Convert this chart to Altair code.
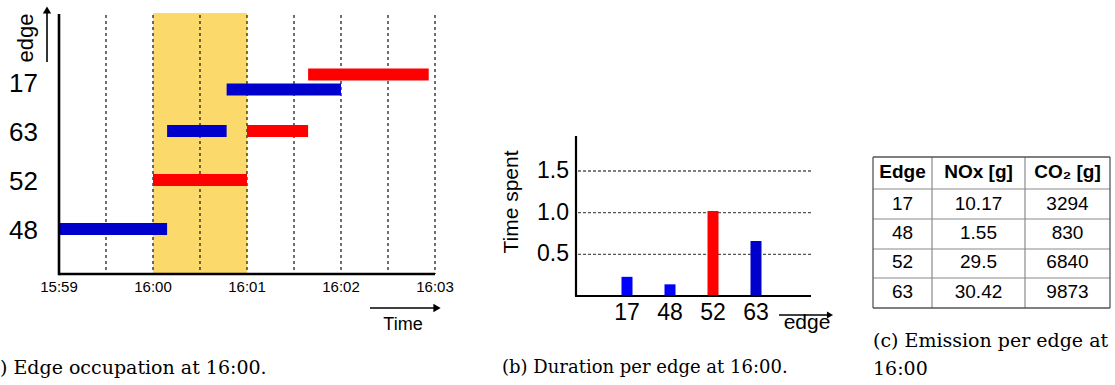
import altair as alt
import pandas as pd

SANS = "Liberation Sans"
SERIF = "DejaVu Serif"

# ---------------- (a) Edge occupation ----------------
occ_vehicle = ["blue", "blue", "blue", "red", "red", "red"]
occ_edge = ["48", "63", "17", "52", "63", "17"]
occ_start = ["15:59:00", "16:00:09", "16:00:47", "16:00:00", "16:01:00", "16:01:39"]
occ_end = ["16:00:09", "16:00:47", "16:02:00", "16:01:00", "16:01:39", "16:02:56"]
occ_slot = ["mid", "mid", "lower", "mid", "mid", "upper"]

edge_order = ["17", "63", "52", "48"]
grid_times = ["15:59:30", "16:00:00", "16:00:30", "16:01:00",
              "16:01:30", "16:02:00", "16:02:30", "16:03:00"]
tick_times = ["15:59:00", "16:00:00", "16:01:00", "16:02:00", "16:03:00"]
tick_labels = ["15:59", "16:00", "16:01", "16:02", "16:03"]
window_start = ["16:00:00"]
window_end = ["16:01:00"]
axis_start = ["15:59:00"]
axis_end = ["16:03:00"]

# ---------------- (b) Duration per edge ----------------
dur_edge = ["17", "48", "52", "63"]
dur_time = [0.23, 0.14, 1.02, 0.66]
dur_ticks = [0.5, 1.0, 1.5]
dur_tick_labels = ["0.5", "1.0", "1.5"]

# ---------------- (c) Emission table ----------------
tab_header = ["Edge", "NOx [g]", "CO\u2082 [g]"]
tab_edge = ["17", "48", "52", "63"]
tab_nox = ["10.17", "1.55", "29.5", "30.42"]
tab_co2 = ["3294", "830", "6840", "9873"]


def secs(s):
    h, m, sec = (int(p) for p in s.split(":"))
    return h * 3600 + m * 60 + sec


def text_layer(txt, x, y, size, font=SANS, align="center", baseline="alphabetic",
               angle=0, weight="normal"):
    kw = dict(font=font, fontSize=size, align=align, baseline=baseline,
              fontWeight=weight, color="black")
    if angle:
        kw["angle"] = angle
    return alt.Chart(pd.DataFrame({"s": [txt]})).mark_text(**kw).encode(
        x=alt.value(x), y=alt.value(y), text="s:N")


def hline(x1, x2, y, width=1.0, color="black", dash=None):
    kw = dict(color=color, strokeWidth=width, strokeCap="butt")
    if dash:
        kw["strokeDash"] = dash
    return alt.Chart(pd.DataFrame({"a": [0]})).mark_rule(**kw).encode(
        x=alt.value(x1), x2=alt.value(x2), y=alt.value(y))


def vline(x, y1, y2, width=1.0, color="black"):
    return alt.Chart(pd.DataFrame({"a": [0]})).mark_rule(
        color=color, strokeWidth=width, strokeCap="butt").encode(
        x=alt.value(x), y=alt.value(y1), y2=alt.value(y2))


def head(x, y, shape, size=70):
    return alt.Chart(pd.DataFrame({"a": [0]})).mark_point(
        shape=shape, filled=True, size=size, color="black", opacity=1, strokeWidth=0).encode(
        x=alt.value(x), y=alt.value(y))


layers = []

# ---------- panel (a) ----------
xA = alt.Scale(domain=[secs(axis_start[0]), secs(axis_end[0])], range=[59, 435],
               nice=False, zero=False)
yA = alt.Scale(type="point", domain=edge_order, range=[82, 229], padding=0)
yOffA = alt.Scale(type="point", domain=["upper", "mid", "lower"], range=[-7.5, 7.5], padding=0)

df_win = pd.DataFrame({"start": [secs(t) for t in window_start],
                       "end": [secs(t) for t in window_end]})
layers.append(alt.Chart(df_win).mark_rect(color="#fcd96b").encode(
    x=alt.X("start:Q", scale=xA, axis=None), x2="end:Q",
    y=alt.value(13), y2=alt.value(274)))

df_grid = pd.DataFrame({"t": [secs(t) for t in grid_times]})
layers.append(alt.Chart(df_grid).mark_rule(color="#222222", strokeDash=[3, 3], strokeWidth=1.3).encode(
    x=alt.X("t:Q", scale=xA, axis=None), y=alt.value(15), y2=alt.value(274)))

df_occ = pd.DataFrame({"vehicle": occ_vehicle, "edge": occ_edge,
                       "start": [secs(t) for t in occ_start],
                       "end": [secs(t) for t in occ_end], "slot": occ_slot})
layers.append(alt.Chart(df_occ).mark_rule(strokeWidth=12, strokeCap="butt").encode(
    x=alt.X("start:Q", scale=xA, axis=None), x2="end:Q",
    y=alt.Y("edge:N", scale=yA, axis=None),
    yOffset=alt.YOffset("slot:N", scale=yOffA),
    color=alt.Color("vehicle:N", scale=alt.Scale(domain=["blue", "red"],
                                                  range=["#0000cc", "#ff0000"]), legend=None)))

df_frame = pd.DataFrame({"t0": [secs(axis_start[0])], "t1": [secs(axis_end[0])]})
layers.append(alt.Chart(df_frame).mark_rule(color="black", strokeWidth=2.6).encode(
    x=alt.X("t0:Q", scale=xA, axis=None), y=alt.value(14), y2=alt.value(275.3)))
layers.append(alt.Chart(df_frame).mark_rule(color="black", strokeWidth=2.6, strokeCap="butt").encode(
    x=alt.X("t0:Q", scale=xA, axis=None), x2="t1:Q", y=alt.value(274)))

df_ticks = pd.DataFrame({"t": [secs(t) for t in tick_times], "label": tick_labels})
layers.append(alt.Chart(df_ticks).mark_text(font=SANS, fontSize=15, baseline="alphabetic",
                                            color="black").encode(
    x=alt.X("t:Q", scale=xA, axis=None), y=alt.value(292), text="label:N"))

df_edges = pd.DataFrame({"edge": edge_order})
layers.append(alt.Chart(df_edges).mark_text(font=SANS, fontSize=26, align="right",
                                            baseline="alphabetic", dy=10, color="black").encode(
    x=alt.value(38), y=alt.Y("edge:N", scale=yA, axis=None), text="edge:N"))

layers.append(text_layer("edge", 26, 38, 22, baseline="middle", angle=270))
layers.append(vline(47, 62, 12, width=1.6))
layers.append(head(47, 10, "triangle-up", 70))
layers.append(text_layer("Time", 403, 330, 18))
layers.append(hline(370, 436, 308, width=1.6))
layers.append(head(437, 308, "triangle-right", 70))
# the reference crops the "(a" of this caption at the page edge
layers.append(text_layer(") Edge occupation at 16:00.", 0, 374, 19, font=SERIF, align="left"))

# ---------- panel (b) ----------
xB = alt.Scale(type="point", domain=dur_edge, range=[627, 756], padding=0)
yB = alt.Scale(domain=[0, 1.5], range=[296, 171], nice=False, zero=False)

df_bt = pd.DataFrame({"v": dur_ticks, "label": dur_tick_labels})
layers.append(alt.Chart(df_bt).mark_rule(color="#555555", strokeDash=[3, 2], strokeWidth=1.3).encode(
    y=alt.Y("v:Q", scale=yB, axis=None), x=alt.value(578), x2=alt.value(813)))

df_dur = pd.DataFrame({"edge": dur_edge, "time": dur_time})
layers.append(alt.Chart(df_dur).mark_rule(strokeWidth=11, strokeCap="butt").encode(
    x=alt.X("edge:N", scale=xB, axis=None),
    y=alt.Y("time:Q", scale=yB, axis=None), y2=alt.datum(0),
    color=alt.Color("edge:N", scale=alt.Scale(domain=dur_edge,
                                               range=["#0000ff", "#0000ff", "#ff0000", "#0000cc"]),
                    legend=None)))

df_zero = pd.DataFrame({"v0": [0]})
layers.append(alt.Chart(df_zero).mark_rule(color="black", strokeWidth=2.2).encode(
    x=alt.value(576), y=alt.Y("v0:Q", scale=yB, axis=None), y2=alt.value(136)))
layers.append(alt.Chart(df_zero).mark_rule(color="black", strokeWidth=2.2, strokeCap="butt").encode(
    y=alt.Y("v0:Q", scale=yB, axis=None), x=alt.value(575), x2=alt.value(811)))

layers.append(alt.Chart(df_bt).mark_text(font=SANS, fontSize=23, align="right", baseline="middle",
                                         color="black").encode(
    x=alt.value(569), y=alt.Y("v:Q", scale=yB, axis=None), text="label:N"))
layers.append(alt.Chart(df_dur).mark_text(font=SANS, fontSize=23, baseline="alphabetic",
                                          color="black").encode(
    x=alt.X("edge:N", scale=xB, axis=None), y=alt.value(320), text="edge:N"))

layers.append(text_layer("Time spent", 512, 202, 21, baseline="middle", angle=270))
layers.append(text_layer("edge", 807, 329, 21))
layers.append(hline(779, 829, 315, width=1.5))
layers.append(head(830, 315, "triangle-right", 50))
layers.append(text_layer("(b) Duration per edge at 16:00.", 502, 373, 18, font=SERIF, align="left"))

# ---------- panel (c) ----------
yC = alt.Scale(type="point", domain=tab_edge, range=[210, 297.5], padding=0)
col_centers = [902.5, 978.5, 1067.5]
df_tab = pd.DataFrame({"edge": tab_edge, "nox": tab_nox, "co2": tab_co2})
for cx, field, htxt in zip(col_centers, ["edge", "nox", "co2"], tab_header):
    layers.append(alt.Chart(df_tab).mark_text(font=SANS, fontSize=19, baseline="alphabetic",
                                              color="black").encode(
        x=alt.value(cx), y=alt.Y("edge:N", scale=yC, axis=None), text=f"{field}:N"))
    layers.append(text_layer(htxt, cx, 177.5, 19, weight="bold"))

row_lines = [189, 219, 249, 278]
for yy in row_lines:
    layers.append(hline(873, 1110, yy, width=1.2, color="#8a8a8a"))
for xx in [932, 1025]:
    layers.append(vline(xx, 157, 308, width=1.2, color="#8a8a8a"))
layers.append(hline(873, 1110, 157, width=1.3, color="#555555"))
layers.append(hline(873, 1110, 308, width=1.3, color="#555555"))
layers.append(vline(873, 157, 308, width=1.3, color="#555555"))
layers.append(vline(1110, 157, 308, width=1.3, color="#555555"))

layers.append(text_layer("(c) Emission per edge at", 873, 347, 19, font=SERIF, align="left"))
layers.append(text_layer("16:00", 873, 375, 19, font=SERIF, align="left"))

chart = alt.layer(*layers).resolve_scale(
    x="independent", y="independent", color="independent"
).properties(
    width=1115, height=385, padding=0, autosize=alt.AutoSizeParams(type="none"),
    background="white"
).configure_view(stroke=None)

chart.save("out.html", embed_options={"renderer": "svg", "actions": False})
